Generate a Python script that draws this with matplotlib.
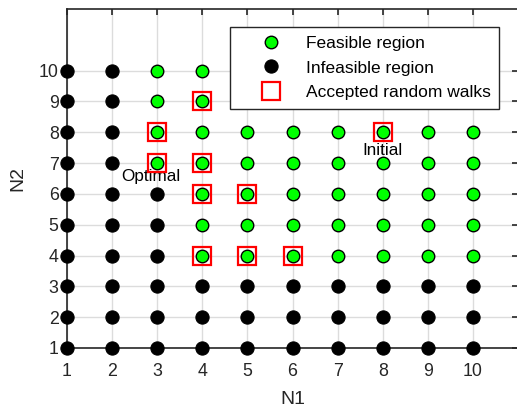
import numpy as np
import matplotlib
matplotlib.use("Agg")
import matplotlib.pyplot as plt

plt.rcParams['font.family'] = ['Liberation Sans', 'DejaVu Sans']

# Design grid
n1_values = list(range(1, 11))
n2_values = list(range(1, 11))

# Feasibility map: one row per N2 (1..10), one column per N1 (1..10)
feasible_map = [
    [0, 0, 0, 0, 0, 0, 0, 0, 0, 0],  # N2 = 1
    [0, 0, 0, 0, 0, 0, 0, 0, 0, 0],  # N2 = 2
    [0, 0, 0, 0, 0, 0, 0, 0, 0, 0],  # N2 = 3
    [0, 0, 0, 1, 1, 1, 1, 1, 1, 1],  # N2 = 4
    [0, 0, 0, 1, 1, 1, 1, 1, 1, 1],  # N2 = 5
    [0, 0, 0, 1, 1, 1, 1, 1, 1, 1],  # N2 = 6
    [0, 0, 1, 1, 1, 1, 1, 1, 1, 1],  # N2 = 7
    [0, 0, 1, 1, 1, 1, 1, 1, 1, 1],  # N2 = 8
    [0, 0, 1, 1, 1, 1, 1, 1, 1, 1],  # N2 = 9
    [0, 0, 1, 1, 1, 1, 1, 1, 1, 1],  # N2 = 10
]

# Accepted random-walk steps (N1, N2)
walk_n1 = [8, 4, 3, 3, 4, 4, 5, 4, 5, 6]
walk_n2 = [8, 9, 8, 7, 7, 6, 6, 4, 4, 4]

initial_point = (8, 8)
optimal_point = (3, 7)

tick_color = '#262626'

fig = plt.figure(figsize=(5.17, 4.12), dpi=100)
ax = fig.add_axes([67 / 517, 64 / 412, 451 / 517, 339 / 412])

gx, gy = np.meshgrid(n1_values, n2_values)
fmask = np.array(feasible_map, dtype=bool)

ax.plot(gx[fmask], gy[fmask], 'o', ls='none', ms=9, mfc='#00ff00', mec='black',
        mew=1.0, label='Feasible region', zorder=3, clip_on=False)
ax.plot(gx[~fmask], gy[~fmask], 'o', ls='none', ms=9.5, mfc='black', mec='black',
        mew=0.8, label='Infeasible region', zorder=3, clip_on=False)
ax.plot(walk_n1, walk_n2, 's', ls='none', ms=12.5, mfc='none', mec='#ff0000',
        mew=1.6, label='Accepted random walks', zorder=4, clip_on=False)

ax.text(initial_point[0], initial_point[1] - 0.6, 'Initial', ha='center', va='center',
        fontsize=12.3, color='black')
ax.text(optimal_point[0] - 0.15, optimal_point[1] - 0.45, 'Optimal', ha='center', va='center',
        fontsize=12.3, color='black')

ax.set_xlim(1, 11)
ax.set_ylim(1, 12)
ax.set_xticks(n1_values)
ax.set_yticks(n2_values)
ax.grid(True, color='#dcdcdc', lw=1.0, zorder=0)
ax.set_axisbelow(True)

ax.tick_params(direction='in', length=4, width=1.2, colors=tick_color,
               top=True, right=True, labelsize=12.8)
ax.tick_params(axis='x', pad=11)
ax.tick_params(axis='y', pad=6)
for sp in ax.spines.values():
    sp.set_color(tick_color)
    sp.set_linewidth(1.2)
    sp.set_zorder(2.5)

ax.set_xlabel('N1', fontsize=14, color=tick_color, labelpad=8)
ax.set_ylabel('N2', fontsize=14, color=tick_color, labelpad=9)

leg = ax.legend(loc='upper right', bbox_to_anchor=(0.958, 0.947), fontsize=12.5,
                frameon=True, fancybox=False, framealpha=1.0, edgecolor=tick_color,
                numpoints=1, handlelength=3.7, handletextpad=0.15, labelspacing=0.55,
                borderpad=0.5, borderaxespad=0)
leg.get_frame().set_linewidth(1.0)
leg.set_zorder(10)
for t in leg.get_texts():
    t.set_color('black')

fig.savefig('out.png', dpi=100)
